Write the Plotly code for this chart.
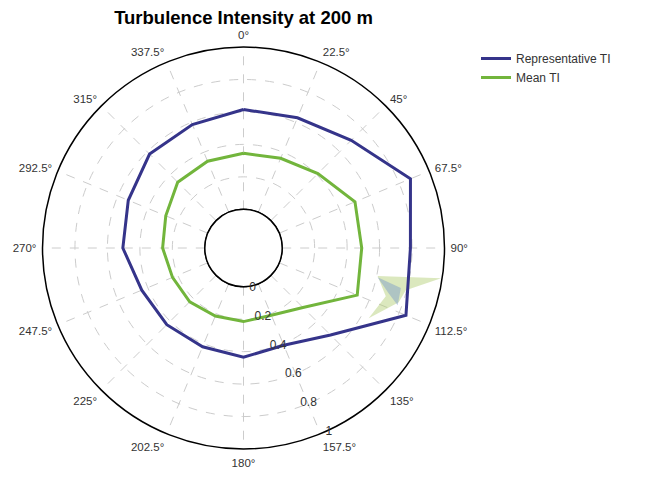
import numpy as np
import plotly.graph_objects as go

# ---- data ----
directions = [0, 22.5, 45, 67.5, 90, 112.5, 135, 157.5, 180, 202.5, 225, 247.5, 270, 292.5, 315, 337.5]
direction_labels = ["0°", "22.5°", "45°", "67.5°", "90°", "112.5°", "135°", "157.5°",
                    "180°", "202.5°", "225°", "247.5°", "270°", "292.5°", "315°", "337.5°"]
representative_ti = [0.615, 0.63, 0.70, 0.875, 0.79, 0.845, 0.52, 0.41,
                     0.435, 0.42, 0.43, 0.44, 0.505, 0.53, 0.58, 0.585]
mean_ti = [0.345, 0.36, 0.41, 0.505, 0.49, 0.52, 0.28, 0.21,
           0.215, 0.215, 0.23, 0.235, 0.26, 0.28, 0.335, 0.34]
radial_ticks = [0, 0.2, 0.4, 0.6, 0.8, 1]
radial_tick_labels = ["0", "0.2", "0.4", "0.6", "0.8", "1"]

# faint artefact fans near 100-120 deg in the source picture
fan_green_theta = [101.8, 98.7, 104.6, 109.3, 119.3, 108.7]
fan_green_r = [0.606, 0.993, 0.795, 0.775, 0.646, 0.687]
fan_blue_theta = [102.3, 104.3, 110.4, 107.3]
fan_blue_r = [0.607, 0.762, 0.775, 0.698]

BLUE = "#35348a"
GREEN = "#72b53c"
W, H = 655, 478
OFF = 8  # page body margin in the browser


def closed(v):
    return list(v) + [v[0]]


def px(x):
    return (x - OFF) / W


def py(y):
    return 1 - (y - OFF) / H


fig = go.Figure()

fig.add_trace(go.Scatterpolar(
    r=closed(fan_green_r), theta=closed(fan_green_theta), mode="lines",
    fill="toself", fillcolor="rgba(175,205,110,0.45)", line=dict(width=0),
    showlegend=False, hoverinfo="skip"))
fig.add_trace(go.Scatterpolar(
    r=closed(fan_blue_r), theta=closed(fan_blue_theta), mode="lines",
    fill="toself", fillcolor="rgba(130,160,200,0.5)", line=dict(width=0),
    showlegend=False, hoverinfo="skip"))

# inner (hole) circle
circ_theta = np.linspace(0, 360, 361)
fig.add_trace(go.Scatterpolar(
    r=np.zeros_like(circ_theta), theta=circ_theta, mode="lines",
    line=dict(color="black", width=1.2), showlegend=False, hoverinfo="skip"))

fig.add_trace(go.Scatterpolar(
    r=closed(representative_ti), theta=closed(directions), mode="lines",
    name="Representative TI", line=dict(color=BLUE, width=3)))
fig.add_trace(go.Scatterpolar(
    r=closed(mean_ti), theta=closed(directions), mode="lines",
    name="Mean TI", line=dict(color=GREEN, width=3)))

fig.update_layout(
    width=W, height=H,
    margin=dict(l=0, r=0, t=0, b=0),
    paper_bgcolor="white",
    font=dict(family="Liberation Sans, Arial, sans-serif", color="#333333", size=11),
    title=dict(text="<b>Turbulence Intensity at 200 m</b>", x=px(243.5), xanchor="center",
               y=py(18), yanchor="middle",
               font=dict(family="Liberation Sans, Arial, sans-serif", size=18.5, color="black")),
    polar=dict(
        domain=dict(x=[px(42.5), px(444.5)], y=[py(449), py(47)]),
        bgcolor="white",
        hole=0.1925,
        angularaxis=dict(
            rotation=90, direction="clockwise",
            tickmode="array", tickvals=directions, ticktext=direction_labels,
            ticks="outside", ticklen=3, tickcolor="rgba(0,0,0,0)",
            showline=True, linecolor="black", linewidth=1.5,
            showgrid=True, gridcolor="#cccccc", griddash="dash", gridwidth=1,
            tickfont=dict(size=11.5, color="#333333"),
        ),
        radialaxis=dict(
            range=[0, 1], tickmode="array", tickvals=radial_ticks, ticktext=radial_tick_labels,
            angle=-62, tickangle=-62, side="clockwise", showline=False, ticks="",
            showgrid=True, gridcolor="#cccccc", griddash="dash", gridwidth=1,
            tickfont=dict(size=12, color="#333333"),
        ),
    ),
    legend=dict(x=px(476), y=py(44), xanchor="left", yanchor="top",
                font=dict(size=12, color="#333333"), bgcolor="rgba(0,0,0,0)",
                tracegroupgap=0, itemwidth=30),
    showlegend=True,
)

fig.write_html("out.html")
